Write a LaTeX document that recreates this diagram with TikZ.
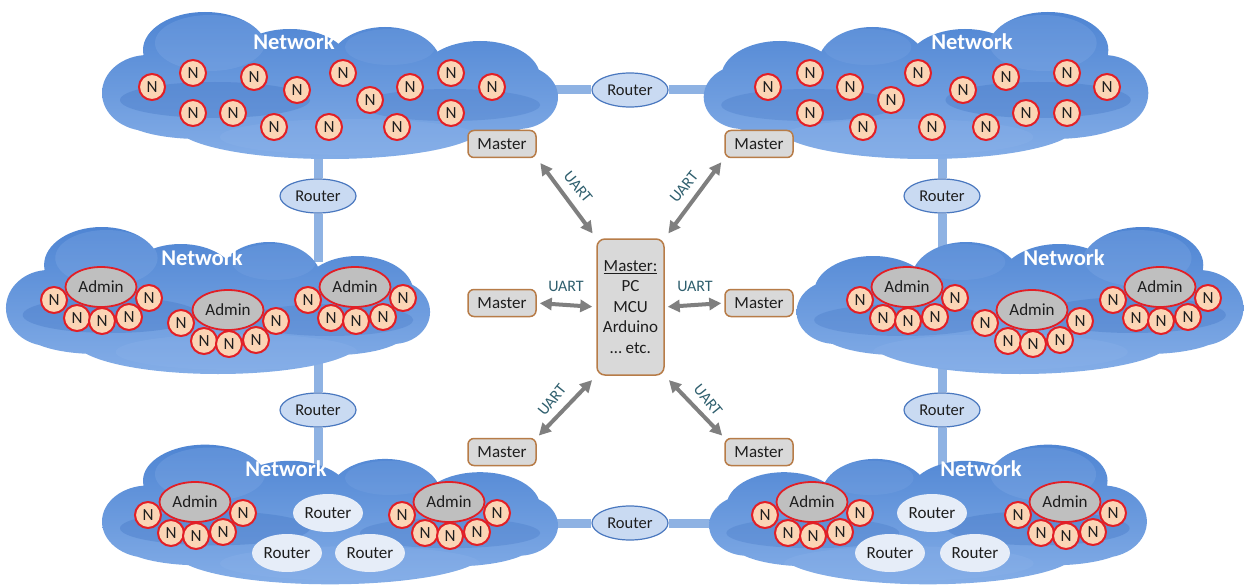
\documentclass[tikz,border=0pt]{standalone}
\usepackage{fontspec}
\setmainfont{Carlito}
\usetikzlibrary{shapes.geometric,arrows.meta}

\definecolor{cloudtop}{HTML}{4C83D2}
\definecolor{cloudbot}{HTML}{86AFE8}
\definecolor{cloudlite}{HTML}{8DB3EA}
\definecolor{clouddark}{HTML}{4477C6}
\definecolor{barblue}{HTML}{8EB2E3}
\definecolor{routerfill}{HTML}{C9DAF2}
\definecolor{routeredge}{HTML}{4A78BF}
\definecolor{innerrouter}{HTML}{E6EDF8}
\definecolor{nodefill}{HTML}{FBD5B5}
\definecolor{nodeedge}{HTML}{E21F26}
\definecolor{adminfill}{HTML}{BFBFBF}
\definecolor{boxfill}{HTML}{D9D9D9}
\definecolor{boxedge}{HTML}{B77C48}
\definecolor{linkgray}{HTML}{7F7F7F}
\definecolor{labelteal}{HTML}{2F5F6E}
\definecolor{inktext}{HTML}{1E1E1E}

\pgfdeclarelayer{links}
\pgfdeclarelayer{clouds}
\pgfsetlayers{links,clouds,main}

\tikzset{
  pics/cloud/.style={code={
    \begin{scope}
      \clip (0,15) ellipse [x radius=212, y radius=45]
            (-182,8) ellipse [x radius=46, y radius=38]
            (-125,-35) ellipse [x radius=62, y radius=38]
            (-40,-20) ellipse [x radius=60, y radius=36]
            (55,-20) ellipse [x radius=56, y radius=38]
            (150,-8) ellipse [x radius=60, y radius=36]
            (188,12) ellipse [x radius=40, y radius=32]
            (0,40) ellipse [x radius=155, y radius=34]
            (-130,30) ellipse [x radius=80, y radius=24]
            (125,30) ellipse [x radius=80, y radius=25];
      \shade[top color=cloudtop, bottom color=cloudbot] (-240,-80) rectangle (240,80);
      \fill[cloudlite, opacity=.25] (-120,-42) ellipse [x radius=55, y radius=28];
      \fill[cloudlite, opacity=.18] (60,-38) ellipse [x radius=45, y radius=18];
      \fill[clouddark, opacity=.38] (-115,15) ellipse [x radius=95, y radius=18];
      \fill[clouddark, opacity=.32] (120,20) ellipse [x radius=90, y radius=16];
      \fill[cloudlite, opacity=.3] (20,52) ellipse [x radius=130, y radius=18];
    \end{scope}
  }},
  nn/.style={circle, draw=nodeedge, line width=2pt, fill=nodefill,
    minimum size=26pt, inner sep=0pt, text=inktext,
    font=\fontsize{17}{17}\selectfont},
  admin/.style={ellipse, draw=nodeedge, line width=1.8pt, fill=adminfill,
    minimum width=71pt, minimum height=40pt, inner sep=0pt, text=inktext,
    font=\fontsize{17}{17}\selectfont},
  hub/.style={ellipse, draw=routeredge, line width=1.2pt, fill=routerfill,
    minimum width=76pt, minimum height=34pt, inner sep=0pt, text=inktext,
    font=\fontsize{16.5}{16.5}\selectfont},
  lanrouter/.style={ellipse, fill=innerrouter, minimum width=70pt,
    minimum height=38pt, inner sep=0pt, text=inktext,
    font=\fontsize{17}{17}\selectfont},
  masterbox/.style={rectangle, rounded corners=6pt, draw=boxedge,
    line width=1.5pt, fill=boxfill, minimum width=68pt, minimum height=27pt,
    inner sep=0pt, text=inktext, font=\fontsize{17}{17}\selectfont},
  hostbox/.style={rectangle, rounded corners=8pt, draw=boxedge,
    line width=1.5pt, fill=boxfill, minimum width=67pt, minimum height=136pt,
    inner sep=0pt, align=center, text=inktext,
    font=\fontsize{17}{20.5}\selectfont},
  netlabel/.style={text=white, inner sep=0pt,
    font=\bfseries\fontsize{22.5}{22.5}\selectfont},
  uart/.style={{Triangle[length=12pt,width=12pt]}-{Triangle[length=12pt,width=12pt]},
    line width=4pt, draw=linkgray},
  uartlbl/.style={text=labelteal, inner sep=0pt,
    font=\fontsize{16}{16}\selectfont},
  linkbar/.style={line width=9pt, draw=barblue},
}

% Admin node with its five members underneath
\newcommand\admingroup[3]{%
  \node[admin] (#1) at (#2,#3) {Admin};
  \foreach \dx/\dy [count=\k] in {-47/13,-24/31,1/34,28/30,48/11}
    \node[nn] (#1-\k) at ({#2+(\dx)},{#3+(\dy)}) {N};
}

\begin{document}
\begin{tikzpicture}[x=1pt,y=-1pt]
\useasboundingbox (0,0) rectangle (1244,588);

% clouds
\begin{pgfonlayer}{clouds}
  \pic at (330,85) {cloud};
  \pic[xscale=-.975] at (926,85) {cloud};
  \pic[xscale=.93] at (218,300) {cloud};
  \pic[xscale=-.98] at (1020,300) {cloud};
  \pic[yscale=.95] at (330,514) {cloud};
  \pic[xscale=-.96, yscale=.95] at (928,514) {cloud};
\end{pgfonlayer}

% network captions
\node[netlabel] (capTL) at (294,42) {Network};
\node[netlabel] (capTR) at (972,42) {Network};
\node[netlabel] (capML) at (202,258) {Network};
\node[netlabel] (capMR) at (1064,258) {Network};
\node[netlabel] (capBL) at (286,469) {Network};
\node[netlabel] (capBR) at (981,469) {Network};

% plain nodes of the two upper networks
\foreach \px/\py [count=\k] in {152/87,193/73,254/77,297/90,343/73,370/100,
    410/87,451/73,492/87,193/113,233/113,274/127,329/127,397/127,451/113}
  \node[nn] (tl-\k) at (\px,\py) {N};
\foreach \px/\py [count=\k] in {768/87,810/73,810/113,850/87,891/100,863/127,
    918/73,932/127,963/90,986/127,1006/77,1026/113,1067/73,1067/113,1107/87}
  \node[nn] (tr-\k) at (\px,\py) {N};

% admin clusters
\admingroup{mlA}{101}{287}
\admingroup{mlB}{228}{310}
\admingroup{mlC}{355}{287}
\admingroup{mrA}{907}{287}
\admingroup{mrB}{1032}{310}
\admingroup{mrC}{1160}{287}
\admingroup{blA}{195}{502}
\admingroup{blB}{449}{502}
\admingroup{brA}{812}{502}
\admingroup{brB}{1065}{502}

% routers inside the lower networks
\node[lanrouter] (blR1) at (328,513) {Router};
\node[lanrouter] (blR2) at (287,553) {Router};
\node[lanrouter] (blR3) at (370,553) {Router};
\node[lanrouter] (brR1) at (932,513) {Router};
\node[lanrouter] (brR2) at (890,553) {Router};
\node[lanrouter] (brR3) at (975,553) {Router};

% routers joining the networks
\node[hub] (rTop) at (630,90) {Router};
\node[hub] (rBot) at (630,523) {Router};
\node[hub] (rL1) at (318,196) {Router};
\node[hub] (rL2) at (318,410) {Router};
\node[hub] (rR1) at (942,196) {Router};
\node[hub] (rR2) at (942,410) {Router};

% attachment points inside the clouds
\coordinate (tlE) at (530,90);
\coordinate (trW) at (730,90);
\coordinate (blE) at (530,523);
\coordinate (brW) at (730,523);
\coordinate (tlS) at (318,140);
\coordinate (mlN) at (318,262);
\coordinate (mlS) at (318,340);
\coordinate (blN) at (318,480);
\coordinate (trS) at (942,140);
\coordinate (mrN) at (942,262);
\coordinate (mrS) at (942,340);
\coordinate (brN) at (942,480);

\begin{pgfonlayer}{links}
  \fill[white] (0,0) rectangle (1244,588);
  \draw[linkbar] (tlE) -- (rTop) -- (trW);
  \draw[linkbar] (blE) -- (rBot) -- (brW);
  \draw[linkbar] (tlS) -- (rL1) -- (mlN);
  \draw[linkbar] (mlS) -- (rL2) -- (blN);
  \draw[linkbar] (trS) -- (rR1) -- (mrN);
  \draw[linkbar] (mrS) -- (rR2) -- (brN);
\end{pgfonlayer}

% masters
\node[hostbox] (ctr) at (630.5,307)
  {\underline{Master:}\\PC\\MCU\\Arduino\\… etc.};
\node[masterbox] (mTL) at (502,144) {Master};
\node[masterbox] (mTR) at (759,144) {Master};
\node[masterbox] (mML) at (502,303) {Master};
\node[masterbox] (mMR) at (759,303) {Master};
\node[masterbox] (mBL) at (502,452) {Master};
\node[masterbox] (mBR) at (759,452) {Master};

% UART links
\draw[uart, shorten <=6pt, shorten >=6pt] (mTL.south east) -- (ctr.north west);
\draw[uart, shorten <=6pt, shorten >=5pt] (ctr.north east) -- (mTR.south west);
\draw[uart, shorten <=3pt, shorten >=4pt] (mML.east) -- (ctr.west);
\draw[uart, shorten <=3pt, shorten >=3pt] (ctr.east) -- (mMR.west);
\draw[uart, shorten <=3pt, shorten >=6pt] (mBL.north east) -- (ctr.south west);
\draw[uart, shorten <=6pt, shorten >=3pt] (ctr.south east) -- (mBR.north west);

\node[uartlbl, rotate=-51] (uTL) at (578,187) {UART};
\node[uartlbl, rotate=51] (uTR) at (684,187) {UART};
\node[uartlbl] (uML) at (566,286) {UART};
\node[uartlbl] (uMR) at (695,286) {UART};
\node[uartlbl, rotate=51] (uBL) at (552,400) {UART};
\node[uartlbl, rotate=-51] (uBR) at (708,400) {UART};
\end{tikzpicture}
\end{document}
